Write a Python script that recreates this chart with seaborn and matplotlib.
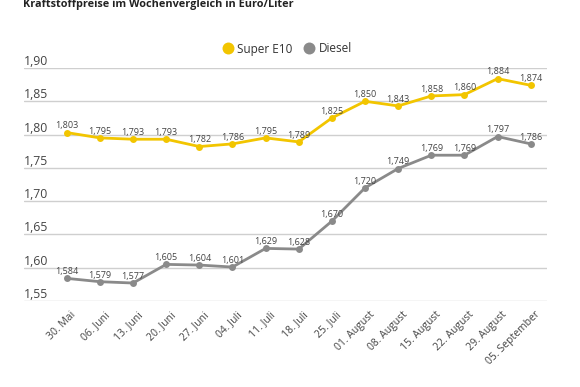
import matplotlib
matplotlib.use("Agg")
import matplotlib.pyplot as plt
import matplotlib.transforms as mtransforms
from matplotlib.lines import Line2D
import seaborn as sns
import pandas as pd

weeks = ["30. Mai", "06. Juni", "13. Juni", "20. Juni", "27. Juni", "04. Juli",
         "11. Juli", "18. Juli", "25. Juli", "01. August", "08. August",
         "15. August", "22. August", "29. August", "05. September"]
super_e10 = [1.803, 1.795, 1.793, 1.793, 1.782, 1.786, 1.795, 1.789, 1.825,
             1.850, 1.843, 1.858, 1.860, 1.884, 1.874]
diesel = [1.584, 1.579, 1.577, 1.605, 1.604, 1.601, 1.629, 1.628, 1.670,
          1.720, 1.749, 1.769, 1.769, 1.797, 1.786]
series_names = ["Super E10", "Diesel"]
yticks = [1.55, 1.60, 1.65, 1.70, 1.75, 1.80, 1.85, 1.90]
title = "Kraftstoffpreise im Wochenvergleich in Euro/Liter"

colors = {"Super E10": "#F2C500", "Diesel": "#8A8A8A"}

sns.set_theme(style="white")
plt.rcParams["font.family"] = ["Open Sans", "DejaVu Sans"]

df = pd.DataFrame({
    "x": list(range(len(weeks))) * 2,
    "Preis": super_e10 + diesel,
    "Sorte": [series_names[0]] * len(weeks) + [series_names[1]] * len(weeks),
})

fig = plt.figure(figsize=(5.8, 3.87), dpi=100)
ax = fig.add_axes([24 / 580, 1 - 301 / 387, (547 - 24) / 580, (301 - 68) / 387])

sns.lineplot(data=df, x="x", y="Preis", hue="Sorte", palette=colors,
             marker="o", markersize=5, markeredgewidth=0, linewidth=2,
             legend=False, ax=ax, zorder=3)

ax.set_xlim(-1.29, 14.49)
ax.set_ylim(1.55, 1.90)
ax.set_yticks(yticks)
ax.set_yticklabels([])
ax.tick_params(axis="y", length=0)
ax.yaxis.grid(True, color="#CFCFCF", linewidth=1)
ax.set_axisbelow(True)
for s in ax.spines.values():
    s.set_visible(False)
ax.set_xlabel("")
ax.set_ylabel("")

trans = mtransforms.blended_transform_factory(ax.transAxes, ax.transData)
for t in yticks:
    ax.text(0.0, t + 0.0045, f"{t:.2f}".replace(".", ","), transform=trans,
            ha="left", va="baseline", fontsize=8.8, color="#444444")

ax.set_xticks(range(len(weeks)))
ax.set_xticklabels(weeks, rotation=45, ha="right", va="top",
                   rotation_mode="anchor", fontsize=7.5, color="#444444")
ax.tick_params(axis="x", length=0, pad=6)
shift = mtransforms.ScaledTranslation(4 / 100, 0, fig.dpi_scale_trans)
for lbl in ax.get_xticklabels():
    lbl.set_transform(lbl.get_transform() + shift)

for vals in (super_e10, diesel):
    for i, v in enumerate(vals):
        ax.annotate(f"{v:.3f}".replace(".", ","), (i, v), xytext=(0, 3),
                    textcoords="offset points", ha="center", va="baseline",
                    fontsize=6.5, color="#444444", zorder=4)

fig.text(23 / 580, 1 - 5 / 387, title, ha="left", va="center",
         fontsize=7.8, fontweight="bold", color="#222222")

handles = [Line2D([], [], linestyle="", marker="o", markersize=8.6,
                  markeredgewidth=0, color=colors[n]) for n in series_names]
fig.legend(handles, series_names, loc="center", bbox_to_anchor=(287 / 580, 1 - 49 / 387),
           ncol=2, frameon=False, fontsize=8.5, handletextpad=0.3,
           columnspacing=0.9, handlelength=1.0, labelcolor="#333333")

fig.savefig("out.png", dpi=100)
